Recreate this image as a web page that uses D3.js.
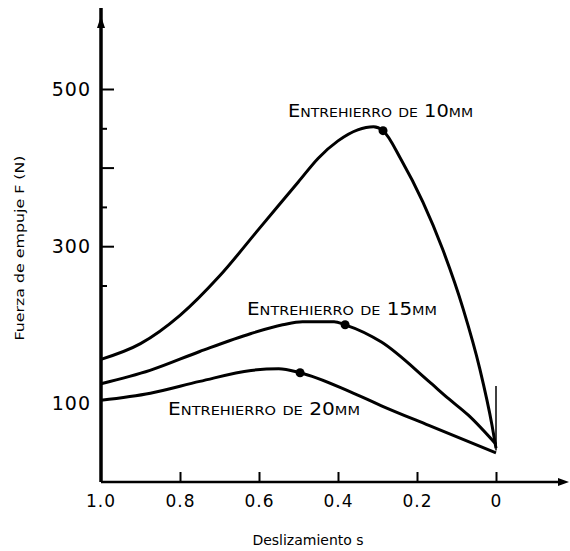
<!DOCTYPE html>
<html>
<head>
<meta charset="utf-8">
<script src="https://cdn.jsdelivr.net/npm/d3@7"></script>
<style>
  body { margin: 0; background: #fff; }
  svg { display: block; }
  text { font-family: "DejaVu Sans", sans-serif; fill: #000; }
</style>
</head>
<body>
<div id="chart"></div>
<script>
// slip s (x) and thrust force F in N (y)
const s10 = [1.0, 0.9, 0.8, 0.7, 0.6, 0.5, 0.45, 0.4, 0.35, 0.31, 0.286, 0.24, 0.185, 0.135, 0.083, 0.041, 0.01, 0]
const f10 = [156, 176, 212, 262, 322, 382, 412, 434, 448, 452, 447, 410, 356, 296, 220, 144, 72, 43]

const s15 = [1.0, 0.876, 0.75, 0.62, 0.54, 0.49, 0.41, 0.382, 0.29, 0.17, 0.12, 0.07, 0]
const f15 = [125, 142, 166, 189, 200, 204, 204, 200, 178, 128, 106, 85, 48]

const s20 = [1.0, 0.875, 0.75, 0.62, 0.55, 0.496, 0.37, 0.29, 0.17, 0]
const f20 = [104, 113, 128, 142, 144, 139, 115, 97, 72, 37]

const seriesNames = ['Entrehierro de 10mm', 'Entrehierro de 15mm', 'Entrehierro de 20mm']
const markS = [0.286, 0.382, 0.496]
const markF = [447, 200, 139]

const xTicks = [1.0, 0.8, 0.6, 0.4, 0.2, 0]
const xTickLabels = ['1.0', '0.8', '0.6', '0.4', '0.2', '0']
const yTicks = [250, 300, 350, 400, 450, 500]
const yTickLabels = { 100: '100', 300: '300', 500: '500' }
const yMajor = [300, 400, 500]

const width = 570, height = 551

const x = d3.scaleLinear().domain([1, 0]).range([101, 496])
const y = d3.scaleLinear().domain([0, 500]).range([482, 89])

const svg = d3.select('#chart').append('svg')
  .attr('width', width)
  .attr('height', height)

// y axis
const yAxis = d3.axisLeft(y)
  .tickValues(yTicks.concat([100]))
  .tickSize(-13)
  .tickPadding(10)
  .tickFormat(d => yTickLabels[d] || '')

const gy = svg.append('g')
  .attr('transform', `translate(${x(1)},0)`)
  .call(yAxis)
gy.select('.domain').remove()
gy.selectAll('.tick line')
  .attr('x2', d => d === 100 ? 0 : yMajor.includes(d) ? 13 : 6)
  .attr('stroke', '#000')
  .attr('stroke-width', 2)
gy.selectAll('.tick text')
  .style('font-size', '19px')
  .style('letter-spacing', '1px')

svg.append('line')
  .attr('x1', x(1)).attr('x2', x(1))
  .attr('y1', y(0)).attr('y2', 8)
  .attr('stroke', '#000').attr('stroke-width', 3.5)
svg.append('path')
  .attr('d', `M${x(1) - 4},28 L${x(1)},16 L${x(1) + 4},28 Z`)
  .attr('fill', '#000')

// x axis
const xAxis = d3.axisBottom(x)
  .tickValues(xTicks.slice(1))
  .tickSize(-10)
  .tickPadding(13)
  .tickFormat((d, i) => xTickLabels[i + 1])

const gx = svg.append('g')
  .attr('transform', `translate(0,${y(0)})`)
  .call(xAxis)
gx.select('.domain').remove()
gx.selectAll('.tick line').attr('stroke', '#000').attr('stroke-width', 2)
gx.selectAll('.tick text').style('font-size', '17px').style('letter-spacing', '1px')

gx.append('text')
  .attr('x', x(1))
  .attr('y', 13)
  .attr('dy', '0.71em')
  .attr('text-anchor', 'middle')
  .style('font-size', '17px')
  .style('letter-spacing', '1px')
  .text(xTickLabels[0])

svg.append('line')
  .attr('x1', x(1)).attr('x2', 561)
  .attr('y1', y(0)).attr('y2', y(0))
  .attr('stroke', '#000').attr('stroke-width', 2.5)
svg.append('path')
  .attr('d', `M558,${y(0) - 4} L569,${y(0)} L558,${y(0) + 4} Z`)
  .attr('fill', '#000')

// short vertical mark at s = 0
svg.append('line')
  .attr('x1', x(0)).attr('x2', x(0))
  .attr('y1', y(122)).attr('y2', y(40))
  .attr('stroke', '#000').attr('stroke-width', 1.5)

// curves
const line = d3.line()
  .x(d => x(d[0]))
  .y(d => y(d[1]))
  .curve(d3.curveMonotoneX)

const series = [
  d3.zip(s10, f10),
  d3.zip(s15, f15),
  d3.zip(s20, f20)
]

svg.selectAll('path.curve')
  .data(series)
  .enter()
  .append('path')
  .attr('class', 'curve')
  .attr('d', line)
  .attr('fill', 'none')
  .attr('stroke', '#000')
  .attr('stroke-width', 3)
  .attr('stroke-linejoin', 'round')

svg.selectAll('circle.mark')
  .data(d3.zip(markS, markF))
  .enter()
  .append('circle')
  .attr('class', 'mark')
  .attr('cx', d => x(d[0]))
  .attr('cy', d => y(d[1]))
  .attr('r', 4.5)
  .attr('fill', '#000')

// curve labels
const labelPos = [
  { x: 288, y: 117, w: 185 },
  { x: 247, y: 315, w: 190 },
  { x: 168, y: 415, w: 192 }
]
svg.selectAll('text.series')
  .data(seriesNames)
  .enter()
  .append('text')
  .attr('class', 'series')
  .attr('x', (d, i) => labelPos[i].x)
  .attr('y', (d, i) => labelPos[i].y)
  .attr('textLength', (d, i) => labelPos[i].w)
  .attr('lengthAdjust', 'spacingAndGlyphs')
  .style('font-size', '18px')
  .style('font-variant', 'small-caps')
  .text(d => d)

// axis titles
svg.append('text')
  .attr('transform', 'translate(24,248) rotate(-90)')
  .attr('text-anchor', 'middle')
  .attr('textLength', 185)
  .attr('lengthAdjust', 'spacingAndGlyphs')
  .style('font-size', '13px')
  .text('Fuerza de empuje F (N)')

svg.append('text')
  .attr('x', 308)
  .attr('y', 545)
  .attr('text-anchor', 'middle')
  .style('font-size', '14px')
  .text('Deslizamiento s')
</script>
</body>
</html>
